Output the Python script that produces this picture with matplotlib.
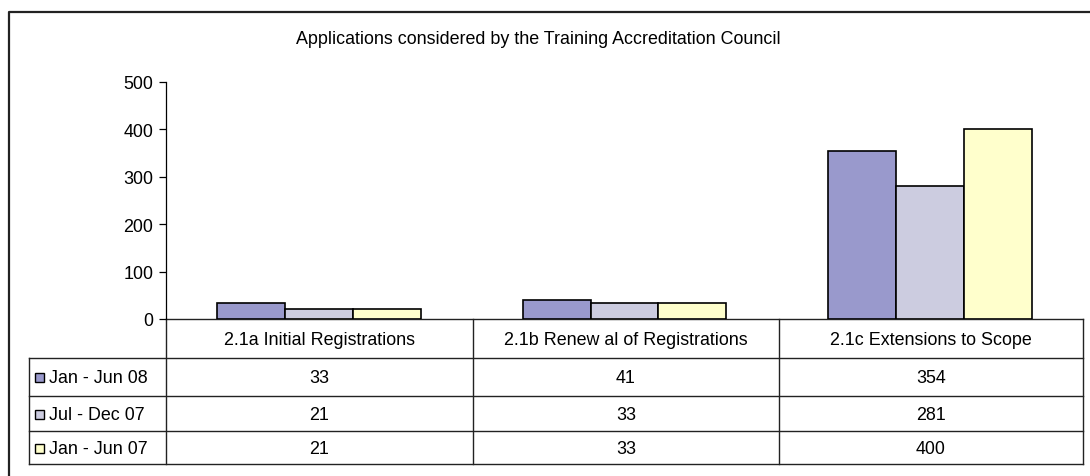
import matplotlib
matplotlib.use("Agg")
import matplotlib.pyplot as plt
import numpy as np

plt.rcParams['font.family'] = ['Liberation Sans', 'DejaVu Sans']

title = "Applications considered by the Training Accreditation Council"
categories = ["2.1a Initial Registrations", "2.1b Renew al of Registrations", "2.1c Extensions to Scope"]
series_names = ["Jan - Jun 08", "Jul - Dec 07", "Jan - Jun 07"]
series_values = [
    [33, 41, 354],
    [21, 33, 281],
    [21, 33, 400],
]
colors = ["#9999CC", "#CCCCE0", "#FFFFCC"]
yticks = [0, 100, 200, 300, 400, 500]

W, H = 1090, 477
FS = 12.9
fig = plt.figure(figsize=(W / 100, H / 100), dpi=100)

def fr(x0, y0, x1, y1):
    return [x0 / W, 1 - y1 / H, (x1 - x0) / W, (y1 - y0) / H]

# overlay axes in pixel coords
ov = fig.add_axes([0, 0, 1, 1])
ov.set_xlim(0, W)
ov.set_ylim(H, 0)
ov.axis('off')

# outer border
ov.plot([9, 9, W + 5], [H + 5, 13, 13], color='#222222', lw=1.6, solid_capstyle='butt')

# plot area
px0, px1, py0, py1 = 166, 1083, 83, 320
ax = fig.add_axes(fr(px0, py0, px1, py1))
n = len(categories)
ax.set_xlim(-0.5, n - 0.5)
ax.set_ylim(0, 500)
x = np.arange(n)
bw = 1 / 4.5
for i, (vals, c) in enumerate(zip(series_values, colors)):
    ax.bar(x + (i - 1) * bw, vals, width=bw, color=c, edgecolor='black', linewidth=1.2, zorder=3)
ax.set_yticks(yticks)
ax.set_yticklabels([str(t) for t in yticks], fontsize=FS)
ax.set_xticks([])
for s in ['top', 'right', 'bottom']:
    ax.spines[s].set_visible(False)
ax.spines['left'].set_color('black')
ax.spines['left'].set_linewidth(0.9)
ax.tick_params(axis='y', length=5, width=0.9, pad=4, colors='black')
ax.patch.set_alpha(0)

# title
ov.text(538, 40, title, ha='center', va='center', fontsize=FS)

# table
lc = '#222222'
lw = 1.0
tx0 = 29
col_edges = [166, 473, 779, 1083]
row_edges = [320, 359, 397, 432, 465]
ov.plot([col_edges[0], col_edges[-1]], [row_edges[0]] * 2, color=lc, lw=lw)
for y in row_edges[1:]:
    ov.plot([tx0, col_edges[-1]], [y, y], color=lc, lw=lw)
for xe in col_edges:
    ov.plot([xe, xe], [row_edges[0], row_edges[-1]], color=lc, lw=lw)
ov.plot([tx0, tx0], [row_edges[1], row_edges[-1]], color=lc, lw=lw)

for j, cat in enumerate(categories):
    cx = (col_edges[j] + col_edges[j + 1]) / 2
    cy = (row_edges[0] + row_edges[1]) / 2
    ov.text(cx, cy + 1, cat, ha='center', va='center', fontsize=FS)

for i, (name, vals, c) in enumerate(zip(series_names, series_values, colors)):
    cy = (row_edges[i + 1] + row_edges[i + 2]) / 2
    ov.add_patch(plt.Rectangle((35, cy - 4), 9, 9, facecolor=c, edgecolor='black', lw=1.0))
    ov.text(49, cy + 1, name, ha='left', va='center', fontsize=FS)
    for j, v in enumerate(vals):
        cx = (col_edges[j] + col_edges[j + 1]) / 2
        ov.text(cx, cy + 1, str(v), ha='center', va='center', fontsize=FS)

fig.savefig("out.png", dpi=100)
